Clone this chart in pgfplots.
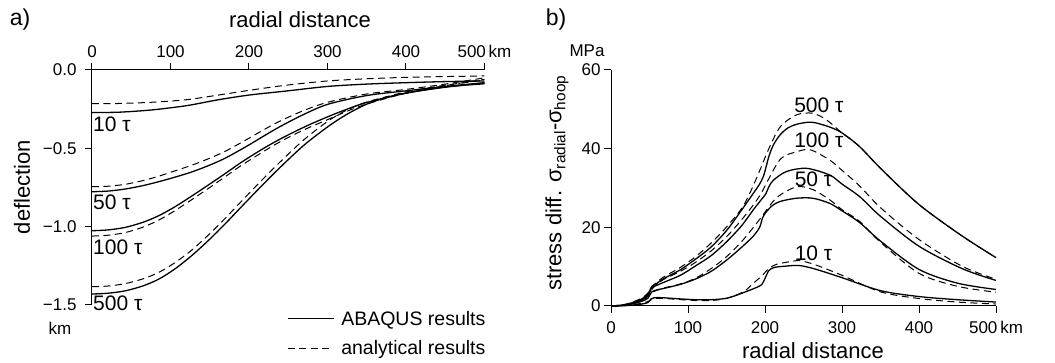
\documentclass[border=0pt]{standalone}
\usepackage{fontspec}
\setmainfont{Liberation Sans}
\usepackage{pgfplots}
\pgfplotsset{compat=1.18}
\newcommand{\ticksize}{\fontsize{17}{20}\selectfont}
\newcommand{\labsize}{\fontsize{22}{26}\selectfont}
\newcommand{\cursize}{\fontsize{21}{24}\selectfont}
\newcommand{\legsize}{\fontsize{19.5}{23}\selectfont}
\begin{document}
\begin{tikzpicture}[x=1pt,y=1pt]
\path[use as bounding box] (0,0) rectangle (1055,363);
\pgfplotsset{
  solidc/.style={black, line width=1.3pt, smooth, tension=0.5},
  dashc/.style={black, line width=1.0pt, dash pattern=on 7pt off 4.5pt, smooth, tension=0.5},
}
% ---------------- panel a ----------------
\begin{axis}[at={(92pt,58pt)}, anchor=south west, scale only axis,
  width=392.5pt, height=235pt,
  xmin=0, xmax=500, ymin=-1.5, ymax=0,
  axis x line=top, axis y line=left,
  axis line style={-, line width=1pt},
  tick style={line width=1pt, black},
  tick align=outside, major tick length=7pt,
  xtick={0,100,200,300,400,500},
  xticklabels={0,100,200,300,400,500\,km},
  ytick={-1.5,-1,-0.5,0},
  yticklabels={−1.5,−1.0,−0.5,0.0},
  tick label style={font=\ticksize},
  xticklabel style={yshift=2pt},
  yticklabel style={xshift=-5pt},
  clip=false,
  legend style={at={(0.497,-0.02)}, anchor=north west, draw=none, fill=none,
    font=\legsize, row sep=12pt, inner sep=0pt,
    nodes={inner sep=1pt}},
  legend cell align=left,
  legend image code/.code={\draw[#1] (0pt,0pt) -- (46pt,0pt);},
]
\addlegendimage{black, line width=1.0pt}
\addlegendentry{\hspace{6pt}ABAQUS results}
\addlegendimage{black, line width=1.0pt, dash pattern=on 7pt off 4.5pt}
\addlegendentry{\hspace{6pt}analytical results}
% 10 tau
\addplot[solidc] coordinates {(0,-0.272) (20,-0.271) (40,-0.268) (76,-0.255) (120,-0.228) (161,-0.19) (200,-0.16) (246,-0.135) (300,-0.105) (350,-0.09) (400,-0.081) (450,-0.074) (500,-0.07)};
\addplot[dashc] coordinates {(0,-0.215) (20,-0.215) (40,-0.213) (76,-0.206) (120,-0.19) (161,-0.16) (200,-0.13) (246,-0.098) (300,-0.07) (350,-0.056) (400,-0.047) (450,-0.042) (500,-0.038)};
% 50 tau
\addplot[solidc] coordinates {(0,-0.777) (20,-0.773) (42,-0.76) (65,-0.738) (85,-0.713) (105,-0.685) (127,-0.651) (150,-0.607) (170,-0.562) (197,-0.487) (220,-0.418) (240,-0.36) (270,-0.283) (301,-0.218) (350,-0.163) (400,-0.133) (450,-0.105) (500,-0.081)};
\addplot[dashc] coordinates {(0,-0.745) (20,-0.742) (42,-0.73) (65,-0.706) (85,-0.678) (105,-0.645) (127,-0.608) (150,-0.563) (170,-0.518) (197,-0.444) (220,-0.378) (240,-0.325) (270,-0.258) (301,-0.205) (350,-0.153) (400,-0.124) (450,-0.09) (500,-0.05)};
% 100 tau
\addplot[solidc] coordinates {(0,-1.026) (20,-1.021) (42,-1.005) (65,-0.972) (85,-0.93) (105,-0.875) (127,-0.805) (150,-0.728) (170,-0.66) (190,-0.59) (217,-0.505) (240,-0.44) (270,-0.365) (301,-0.297) (325,-0.25) (350,-0.207) (400,-0.148) (450,-0.11) (500,-0.083)};
\addplot[dashc] coordinates {(0,-1.06) (20,-1.055) (42,-1.038) (65,-1.003) (85,-0.958) (105,-0.9) (127,-0.828) (150,-0.75) (170,-0.68) (190,-0.61) (217,-0.525) (240,-0.457) (270,-0.382) (301,-0.315) (325,-0.263) (350,-0.217) (400,-0.148) (450,-0.1) (500,-0.06)};
% 500 tau
\addplot[solidc] coordinates {(0,-1.43) (20,-1.425) (42,-1.41) (65,-1.378) (85,-1.335) (105,-1.272) (127,-1.185) (150,-1.08) (170,-0.98) (190,-0.875) (217,-0.735) (240,-0.62) (270,-0.48) (301,-0.36) (325,-0.282) (350,-0.218) (375,-0.176) (400,-0.147) (450,-0.108) (500,-0.088)};
\addplot[dashc] coordinates {(0,-1.383) (20,-1.379) (42,-1.364) (65,-1.333) (85,-1.292) (105,-1.232) (127,-1.15) (150,-1.045) (170,-0.945) (190,-0.84) (217,-0.70) (240,-0.585) (270,-0.445) (301,-0.325) (325,-0.255) (350,-0.205) (400,-0.14) (450,-0.097) (500,-0.065)};
\node[anchor=west, font=\cursize, inner sep=1pt] at (axis cs:0,-0.348) {10 τ};
\node[anchor=west, font=\cursize, inner sep=1pt] at (axis cs:0,-0.846) {50 τ};
\node[anchor=west, font=\cursize, inner sep=1pt] at (axis cs:0,-1.133) {100 τ};
\node[anchor=west, font=\cursize, inner sep=1pt] at (axis cs:0,-1.489) {500 τ};
\end{axis}
% ---------------- panel b ----------------
\begin{axis}[at={(611pt,57pt)}, anchor=south west, scale only axis,
  width=385pt, height=236pt,
  xmin=0, xmax=500, ymin=0, ymax=60,
  axis x line=bottom, axis y line=left,
  axis line style={-, line width=1pt},
  tick style={line width=1pt, black},
  tick align=outside, major tick length=7pt,
  xtick={0,100,200,300,400,500},
  xticklabels={0,100,200,300,400,500\,km},
  ytick={0,20,40,60},
  yticklabels={0,20,40,60},
  tick label style={font=\ticksize},
  xticklabel style={yshift=-5pt},
  clip=false,
]
% 10 tau
\addplot[solidc] coordinates {(0,0) (20,0.1) (40,0.5) (48,0.9) (52,1.8) (56,2.1) (67,2.1) (90,1.8) (110,1.6) (130,1.6) (151,2.0) (172,3.4) (190,4.8) (196,5.5) (200,7.0) (205,9.0) (212,9.8) (225,10.1) (244,10.3) (265,9.4) (300,7.2) (350,3.9) (400,2.4) (450,1.6) (500,1.0)};
\addplot[dashc] coordinates {(0,0) (20,0.2) (40,0.7) (50,1.3) (55,1.9) (70,1.9) (100,1.5) (130,1.4) (151,2.0) (172,3.6) (185,5.8) (195,7.5) (205,9.5) (215,10.6) (236,11.4) (244,11.6) (265,10.5) (300,7.8) (350,3.6) (400,1.9) (450,1.0) (500,0.5)};
% 50 tau
\addplot[solidc] coordinates {(0,0) (20,0.2) (40,1.2) (48,2.0) (53,3.6) (60,4.1) (67,4.4) (90,5.5) (109,6.8) (130,8.8) (151,11.8) (170,15.0) (185,17.8) (193,20.0) (197,22.5) (202,24.0) (210,25.6) (220,26.6) (241,27.4) (262,27.4) (284,26.1) (300,24.2) (323,21.2) (350,16.5) (400,9.3) (450,5.8) (500,4.2)};
\addplot[dashc] coordinates {(0,0) (20,0.3) (40,1.4) (50,2.8) (55,3.6) (67,4.5) (90,5.6) (109,7.0) (130,9.5) (151,12.7) (172,16.9) (193,22.0) (215,27.5) (241,30.3) (262,29.6) (284,27.0) (300,24.5) (323,21.5) (350,16.2) (400,8.3) (450,5.0) (500,3.5)};
% 100 tau
\addplot[solidc] coordinates {(0,0) (20,0.3) (40,1.5) (48,2.6) (53,4.6) (60,5.3) (67,5.9) (90,7.8) (109,10.1) (130,12.8) (151,16.5) (170,20.5) (185,24.5) (195,27.0) (201,28.5) (205,30.3) (211,32.0) (228,34.2) (254,35.0) (284,33.3) (300,31.0) (323,27.8) (350,22.8) (400,15.2) (456,9.5) (500,6.5)};
\addplot[dashc] coordinates {(0,0) (20,0.4) (40,1.7) (50,3.3) (55,4.7) (67,6.6) (90,8.8) (109,11.0) (130,14.0) (151,17.8) (172,22.5) (193,28.0) (219,37.1) (241,39.2) (259,39.7) (284,37.1) (300,34.5) (323,30.5) (350,25.0) (400,16.9) (456,10.1) (500,6.8)};
% 500 tau
\addplot[solidc] coordinates {(0,0) (20,0.4) (40,1.8) (48,3.0) (53,5.0) (60,5.8) (67,6.8) (90,9.2) (109,11.8) (130,15.0) (151,19.4) (170,24.5) (185,28.7) (193,31.0) (198,33.0) (202,35.8) (205,38.0) (211,41.0) (220,43.6) (230,45.3) (241,46.2) (255,46.7) (265,46.6) (284,45.5) (300,44.0) (323,40.5) (350,35.0) (400,25.8) (456,17.8) (500,12.3)};
\addplot[dashc] coordinates {(0,0) (20,0.5) (40,2.0) (50,3.8) (55,5.2) (67,7.2) (90,9.8) (109,12.4) (130,16.0) (151,20.3) (172,25.5) (189,32.5) (205,40.0) (220,45.6) (241,48.6) (262,49.0) (280,47.3) (300,44.0) (323,40.5) (350,35.0) (400,25.8) (456,17.8) (500,12.3)};
\node[font=\cursize, inner sep=0pt] at (axis cs:270,51.1) {500 τ};
\node[font=\cursize, inner sep=0pt] at (axis cs:270,42.1) {100 τ};
\node[font=\cursize, inner sep=0pt] at (axis cs:263,32.2) {50 τ};
\node[font=\cursize, inner sep=0pt] at (axis cs:263,13.3) {10 τ};
\end{axis}
% ---------------- labels ----------------
\node[font=\fontsize{23}{26}\selectfont] at (20,343) {a)};
\node[font=\fontsize{23}{26}\selectfont] at (556,343) {b)};
\node[font=\labsize] at (300,343.5) {radial distance};
\node[font=\labsize, rotate=90] at (22,176) {deflection};
\node[font=\ticksize] at (60,34.5) {km};
\node[font=\ticksize] at (587,312.5) {MPa};
\node[font=\labsize] at (813,12) {radial distance};
\node[font=\labsize, rotate=90] at (557,180) {stress diff. σ\textsubscript{radial}-σ\textsubscript{hoop}};
\end{tikzpicture}
\end{document}
